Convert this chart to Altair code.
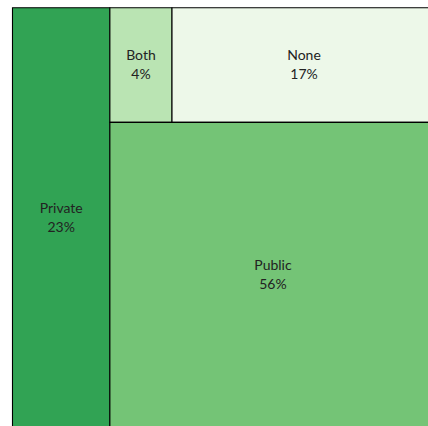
import altair as alt
import pandas as pd

categories = ["Private", "Both", "None", "Public"]
shares = [23, 4, 17, 56]
colors = ["#31a354", "#bae4b3", "#edf8e9", "#74c476"]

# Simple treemap layout (slice-and-dice) derived from the shares, in a 0-100 square
share = dict(zip(categories, shares))
total = sum(shares)
rects = []
x_priv = share["Private"] / total * 100
rects.append(("Private", 0, x_priv, 0, 100))
rest = total - share["Private"]
top_h = (share["Both"] + share["None"]) / rest * 100
both_w = share["Both"] / (share["Both"] + share["None"]) * (100 - x_priv)
rects.append(("Both", x_priv, x_priv + both_w, 0, top_h))
rects.append(("None", x_priv + both_w, 100, 0, top_h))
rects.append(("Public", x_priv, 100, top_h, 100))

df = pd.DataFrame(rects, columns=["cat", "x0", "x1", "y0", "y1"])
df["share"] = df["cat"].map(share)
df["label"] = df["cat"] + "\n" + df["share"].astype(str) + "%"
df["xc"] = (df["x0"] + df["x1"]) / 2
df["yc"] = (df["y0"] + df["y1"]) / 2

full_w, full_h = 424, 421
W, H = 416, 419
xs = alt.Scale(domain=[0, 100 * W / full_w], nice=False, zero=False)
ys = alt.Scale(domain=[0, 100 * H / full_h], nice=False, zero=False, reverse=True)

base = alt.Chart(df)
rect = base.mark_rect(stroke="black", strokeWidth=1.1).encode(
    x=alt.X("x0:Q", scale=xs, axis=None),
    x2="x1:Q",
    y=alt.Y("y0:Q", scale=ys, axis=None),
    y2="y1:Q",
    color=alt.Color("cat:N", scale=alt.Scale(domain=categories, range=colors), legend=None),
)
text = base.mark_text(
    lineBreak="\n", font="Lato", fontSize=14, lineHeight=19, dy=-9,
    color="#222222", align="center", baseline="middle"
).encode(
    x=alt.X("xc:Q", scale=xs),
    y=alt.Y("yc:Q", scale=ys),
    text="label:N",
)

chart = (rect + text).properties(
    width=W, height=H,
    padding={"left": 12.5, "top": 7.5, "right": 0, "bottom": 0},
    autosize=alt.AutoSizeParams(type="none"),
    background="white",
).configure_view(strokeWidth=0)

chart.save("out.html", embed_options={"renderer": "svg", "actions": False})
